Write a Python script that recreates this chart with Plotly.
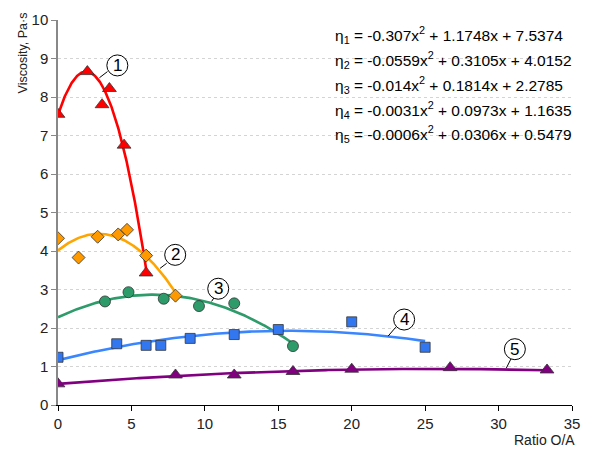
import numpy as np
import plotly.graph_objects as go

# Measured viscosity vs. O/A ratio for five systems
x1 = [0, 2, 3, 3.5, 4.5, 6]
y1 = [7.55, 8.66, 7.8, 8.22, 6.75, 3.43]

x2 = [0, 1.4, 2.7, 4.1, 4.7, 6, 8]
y2 = [4.33, 3.83, 4.37, 4.43, 4.55, 3.88, 2.84]

x3 = [3.2, 4.8, 7.2, 9.6, 12, 16]
y3 = [2.69, 2.93, 2.76, 2.57, 2.64, 1.53]

x4 = [0, 4, 6, 7, 9, 12, 15, 20, 25]
y4 = [1.24, 1.59, 1.55, 1.55, 1.73, 1.83, 1.96, 2.16, 1.50]

x5 = [0, 8, 12, 16, 20, 26.7, 33.3]
y5 = [0.55, 0.78, 0.78, 0.87, 0.93, 0.97, 0.91]

# Quadratic trendline coefficients (a, b, c) for a*x^2 + b*x + c
coef1 = [-0.307, 1.1748, 7.5374]
coef2 = [-0.0559, 0.3105, 4.0152]
coef3 = [-0.014, 0.1814, 2.2785]
coef4 = [-0.0031, 0.0973, 1.1635]
coef5 = [-0.0006, 0.0306, 0.5479]

# Trendline x-extent for each series
fit_range = [(0, 6), (0, 8), (0, 16), (0, 25), (0, 33.3)]

series = [
    dict(x=x1, y=y1, coef=coef1, line="#FF0000", fill="#FF0000", symbol="triangle-up", size=12),
    dict(x=x2, y=y2, coef=coef2, line="#FFA500", fill="#FF9900", symbol="diamond", size=10),
    dict(x=x3, y=y3, coef=coef3, line="#2E9B6A", fill="#2E9B6A", symbol="circle", size=11),
    dict(x=x4, y=y4, coef=coef4, line="#3A86FF", fill="#3377F0", symbol="square", size=10),
    dict(x=x5, y=y5, coef=coef5, line="#800080", fill="#800080", symbol="triangle-up", size=12),
]

fig = go.Figure()

for s, (lo, hi) in zip(series, fit_range):
    xf = np.linspace(lo, hi, 200)
    a, b, c = s["coef"]
    fig.add_trace(go.Scatter(x=xf, y=a * xf**2 + b * xf + c, mode="lines",
                             line=dict(color=s["line"], width=2.6),
                             hoverinfo="skip", showlegend=False))

for s in series:
    fig.add_trace(go.Scatter(x=s["x"], y=s["y"], mode="markers",
                             marker=dict(symbol=s["symbol"], size=s["size"], color=s["fill"],
                                         line=dict(color="#333333", width=0.8)),
                             showlegend=False))

# Numbered callouts: circle centre, leader line start/end
callouts = [
    ("1", (4.04, 8.82), (2.82, 8.50), (3.37, 8.66)),
    ("2", (7.98, 3.90), (6.95, 3.55), (7.40, 3.68)),
    ("3", (10.91, 3.02), (10.46, 2.69), (10.68, 2.82)),
    ("4", (23.57, 2.22), (22.48, 1.79), (23.00, 2.02)),
    ("5", (31.11, 1.45), (30.53, 0.96), (30.86, 1.21)),
]
shapes = []
annotations = []
for label, (cx, cy), (lx0, ly0), (lx1, ly1) in callouts:
    shapes.append(dict(type="line", xref="x", yref="y", x0=lx0, y0=ly0, x1=lx1, y1=ly1,
                       line=dict(color="black", width=1)))
    shapes.append(dict(type="circle", xref="x", yref="y", xsizemode="pixel", ysizemode="pixel",
                       xanchor=cx, yanchor=cy, x0=-10.5, x1=10.5, y0=-10.5, y1=10.5,
                       line=dict(color="black", width=1), fillcolor="white"))
    annotations.append(dict(x=cx, y=cy, xref="x", yref="y", text=label, showarrow=False,
                            font=dict(size=17, color="black", family="Liberation Sans")))

equations = [
    "η<sub>1</sub> = -0.307x<sup>2</sup> + 1.1748x + 7.5374",
    "η<sub>2</sub> = -0.0559x<sup>2</sup> + 0.3105x + 4.0152",
    "η<sub>3</sub> = -0.014x<sup>2</sup> + 0.1814x + 2.2785",
    "η<sub>4</sub> = -0.0031x<sup>2</sup> + 0.0973x + 1.1635",
    "η<sub>5</sub> = -0.0006x<sup>2</sup> + 0.0306x + 0.5479",
]
eq_y = [9.61, 8.97, 8.32, 7.67, 7.03]
for txt, yy in zip(equations, eq_y):
    annotations.append(dict(x=18.72, y=yy, xref="x", yref="y", text=txt, showarrow=False,
                            xanchor="left", yanchor="middle",
                            font=dict(size=15.5, color="black", family="Liberation Sans")))

annotations.append(dict(x=1.01, y=-0.092, xref="paper", yref="paper", text="Ratio O/A",
                        showarrow=False, xanchor="right", yanchor="middle",
                        font=dict(size=14, color="#222222", family="Liberation Sans")))
annotations.append(dict(x=-0.069, y=1.025, xref="paper", yref="paper", text="Viscosity, Pa·s",
                        showarrow=False, textangle=-90, xanchor="center", yanchor="top",
                        font=dict(size=12.5, color="#222222", family="Liberation Sans")))

fig.update_layout(
    width=591, height=452,
    margin=dict(l=58, r=11, t=18, b=47),
    plot_bgcolor="white", paper_bgcolor="white",
    font=dict(family="Liberation Sans", size=15, color="#222222"),
    shapes=shapes, annotations=annotations,
    xaxis=dict(range=[0, 35], dtick=5, tick0=0, showgrid=False, zeroline=False,
               showline=True, linecolor="black", linewidth=1.3,
               ticks="outside", ticklen=5, tickcolor="black", tickfont=dict(size=15)),
    yaxis=dict(range=[0, 10], dtick=1, tick0=0, showgrid=True, gridcolor="#D4D4D4",
               griddash="dot", gridwidth=1, zeroline=False,
               showline=True, linecolor="#888888", linewidth=1.5,
               ticks="outside", ticklen=5, tickcolor="#888888", tickfont=dict(size=15)),
)

fig.write_html("out.html")
